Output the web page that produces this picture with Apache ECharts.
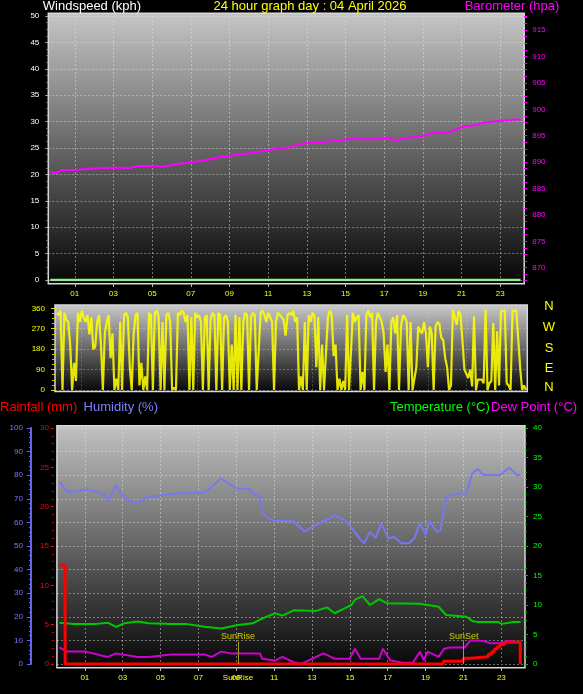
<!DOCTYPE html>
<html><head><meta charset="utf-8">
<script src="https://cdn.jsdelivr.net/npm/echarts@6.0.0/dist/echarts.min.js"></script>
<style>html,body{margin:0;padding:0;background:#000;}#c{width:583px;height:694px;}</style>
</head><body><div id="c"></div>
<script>
// ---------- data ----------
const titleText = '24 hour graph day : 04 April 2026';
const hourTicks = [1,3,5,7,9,11,13,15,17,19,21,23];
const sunriseHour = 9.09;
const sunsetHour = 21.01;

const windSpeedHours = [-0.27, 24.05];
const windSpeedValues = [0, 0];

const baroHours = [-0.27,0.02,0.31,0.98,1.94,3.09,3.8,4.25,5.1,5.59,6.2,7.13,7.9,8.67,9.6,10.59,11.2,12.13,12.51,13.28,14.44,15.4,16.2,17.32,17.51,18.28,19.05,19.43,20.2,20.58,21.07,21.74,22.12,22.89,24.05];
const baroValues = [888.2,887.9,888.5,888.5,888.8,889.0,888.9,889.2,889.3,889.1,889.6,890.0,890.5,891.0,891.5,892.0,892.4,892.8,893.4,893.7,894.0,894.4,894.3,894.6,894.1,894.6,895.0,895.5,895.6,895.9,896.7,897.0,897.5,897.8,898.1];

const windDirStartHour = -0.3;
const windDirStepHours = 0.1;
const windDirValues = [
 340,330,350,0,340,310,300,200,0,120,
 40,340,300,350,320,300,330,245,320,180,
 190,300,330,200,0,250,300,330,140,250,
 0,50,0,300,0,330,340,320,100,0,
 250,330,340,20,120,0,60,0,340,330,
 0,340,350,320,0,300,0,330,340,300,
 0,10,0,340,330,350,340,300,330,0,
 320,0,340,320,330,300,0,320,330,0,
 310,340,330,0,340,330,0,320,330,300,
 0,200,0,330,0,320,0,300,340,330,
 0,320,340,330,0,0,340,350,330,300,
 340,320,300,0,300,340,330,320,310,240,
 330,340,330,350,300,320,0,60,0,300,
 0,330,300,340,330,100,320,0,200,0,
 0,320,350,330,150,200,0,50,0,40,
 0,330,0,0,340,300,320,330,0,80,
 0,330,350,320,340,0,300,340,320,300,
 250,80,200,0,300,320,250,330,0,280,
 330,320,300,0,300,0,0,100,280,260,
 250,300,250,100,280,250,0,280,300,290,
 229,220,141,100,0,20,354,360,288,350,
 330,215,90,90,53,90,16,325,0,46,
 40,46,30,354,0,30,40,295,0,259,
 20,347,355,350,30,20,0,350,355,350,
 355,97,0,20,0
];

const humHours = [-0.34,0.05,0.45,1.04,1.63,2.02,2.21,2.65,3.10,3.78,4.37,5.55,6.34,7.32,7.71,8.20,8.70,9.09,9.68,9.87,10.26,10.36,10.66,11.05,12.03,12.23,12.62,13.02,13.21,13.60,13.80,14.19,14.78,15.18,15.57,15.76,16.06,16.36,16.65,17.04,17.34,17.73,18.12,18.41,18.71,19.00,19.20,19.59,19.79,20.08,20.67,21.16,21.46,21.75,22.05,22.93,23.42,23.81,24.02];
const humValues = [77.3,73,73,74,73,72,69,75.8,70.2,68.1,70.9,71.9,72.5,72.5,75.2,78.7,75.8,74.2,74.2,72.2,71,64.6,61.8,60.6,60.6,58.9,56.1,58.2,58.9,60.6,61,63.1,60.6,56.8,52.6,51.2,56.1,53.3,59.7,53.3,53.8,51.2,51.2,53.3,59.7,54.7,60.6,56.1,56.8,70.9,72.2,72.2,80.8,82.6,80.1,80.1,83.2,80.1,80.1];

const tempHours = [-0.34,0.45,1.63,2.21,2.65,3.10,3.78,4.37,5.55,6.34,7.32,7.71,8.20,9.09,9.87,10.36,11.05,11.44,12.03,13.21,13.80,14.19,14.78,15.08,15.27,15.67,16.06,16.55,16.94,18.71,19.69,20.08,20.86,21.16,21.46,21.75,22.83,23.03,23.62,24.02];
const tempValues = [7.0,6.8,6.8,7.0,6.3,6.9,7.2,6.9,6.8,6.8,6.3,6.2,6.0,6.6,6.9,7.7,8.6,8.2,9.1,9.0,9.6,8.6,9.5,10.0,10.9,11.5,10.0,11.0,10.3,10.2,9.7,8.3,8.1,8.0,7.3,7.1,7.1,6.8,7.1,7.1];

const dewHours = [-0.34,0.05,1.04,2.21,2.65,3.78,4.37,5.55,7.32,7.71,8.20,8.70,10.26,10.36,11.05,11.44,12.03,12.43,12.82,13.60,14.19,14.98,15.27,15.57,16.55,16.75,17.14,17.63,17.75,18.32,18.41,18.71,18.90,19.10,19.69,19.98,20.28,21.07,21.36,21.65,22.05,22.44,22.83,23.42,24.02];
const dewValues = [2.8,2.1,2.1,1.2,1.8,1.2,1.2,1.6,1.6,1.2,2.1,1.8,1.8,0.9,0.6,1.2,0.3,0.0,0.6,1.8,0.9,0.9,2.6,0.9,0.9,2.6,0.6,0.3,0.2,0.2,0.3,2.1,0.6,2.1,1.2,2.6,2.8,2.8,4.0,4.0,3.9,3.5,3.5,3.95,3.6];

const rainHours = [-0.34,-0.04,19.94,20.99,21.38,22.31,22.49,22.63,22.79,22.93,23.2,24.0];
const rainValues = [12.6,0,0.35,0.72,0.93,1.23,1.56,1.9,2.2,2.5,2.76,0];

// ---------- helpers ----------
const FONT = "'Liberation Sans', Arial, sans-serif";
const zip = (xs, ys) => xs.map((x, i) => [x, ys[i]]);
const pad2 = v => { const r = Math.round(v); return (r < 10 ? '0' : '') + r; };
const gridLine = {show: true, lineStyle: {color: 'rgba(230,230,230,0.45)', type: [2, 2], width: 1}};
const bgFill = (c0) => new echarts.graphic.LinearGradient(0, 0, 0, 1, [{offset: 0, color: c0}, {offset: 1, color: '#050505'}]);
const small = (color) => ({color: color, fontSize: 8, fontFamily: FONT});
const noLine = {show: false, onZero: false};

const chart = echarts.init(document.getElementById('c'), null, {renderer: 'canvas'});

const option = {
  backgroundColor: '#000',
  animation: false,
  grid: [
    {left: 48.3, right: 58.8, top: 16, height: 264},
    {left: 55, right: 55.7, top: 308.3, height: 81.7},
    {left: 56.9, right: 58, top: 428, height: 236}
  ],
  xAxis: [
    {type: 'value', gridIndex: 0, min: -0.37, max: 24.24, offset: 4,
     axisLine: noLine,
     axisTick: {show: true, customValues: hourTicks, length: 3, lineStyle: {color: '#bbb'}},
     axisLabel: Object.assign(small('#ffff00'), {customValues: hourTicks, formatter: pad2, margin: 6}),
     splitLine: gridLine},
    {type: 'value', gridIndex: 1, min: -0.39, max: 24.17,
     axisLine: noLine,
     axisTick: {show: false, customValues: hourTicks},
     axisLabel: {show: false},
     splitLine: {show: true, lineStyle: {color: 'rgba(230,230,230,0.25)', type: [2, 2]}}},
    {type: 'value', gridIndex: 2, min: -0.475, max: 24.25, offset: 4,
     axisLine: noLine,
     axisTick: {show: true, customValues: hourTicks, length: 3, lineStyle: {color: '#bbb'}},
     axisLabel: Object.assign(small('#ffff00'), {customValues: hourTicks.concat([sunriseHour]), margin: 6,
       formatter: v => Math.abs(v - sunriseHour) < 1e-6 ? 'SunRise' : pad2(v)}),
     splitLine: gridLine}
  ],
  yAxis: [
    {type: 'value', gridIndex: 0, position: 'left', min: 0, max: 50, interval: 5,
     axisLine: noLine,
     axisTick: {show: true, length: 3, lineStyle: {color: '#aaa'}},
     minorTick: {show: true, splitNumber: 4, length: 2, lineStyle: {color: '#888'}},
     axisLabel: Object.assign(small('#ffffff'), {margin: 9}),
     splitLine: gridLine},
    {type: 'value', gridIndex: 0, position: 'right', min: 867.67, max: 917.67, splitNumber: 10,
     axisLine: noLine,
     axisTick: {show: true, length: 3, lineStyle: {color: '#ff00ff'}},
     minorTick: {show: true, splitNumber: 4, length: 3, lineStyle: {color: '#ff00ff'}},
     axisLabel: Object.assign(small('#ff00ff'), {margin: 8,
       formatter: v => Math.abs(v / 5 - Math.round(v / 5)) < 1e-6 ? String(Math.round(v)) : ''}),
     splitLine: {show: false}},
    {type: 'value', gridIndex: 1, position: 'left', min: 0, max: 360, interval: 90,
     axisLine: noLine,
     axisTick: {show: true, length: 4, lineStyle: {color: '#e0e000'}},
     minorTick: {show: true, splitNumber: 4, length: 3, lineStyle: {color: '#c8c800'}},
     axisLabel: Object.assign(small('#ffff00'), {margin: 10}),
     splitLine: {show: true, lineStyle: {color: 'rgba(230,230,230,0.35)', type: [2, 2]}}},
    {type: 'value', gridIndex: 2, position: 'left', offset: 26, min: 0, max: 100, interval: 10,
     axisLine: {show: true, onZero: false, lineStyle: {color: '#6464f0', width: 2}},
     axisTick: {show: true, length: 4, lineStyle: {color: '#6464f0'}},
     minorTick: {show: true, splitNumber: 5, length: 2, lineStyle: {color: '#6464f0'}},
     axisLabel: Object.assign(small('#7b7bff'), {margin: 8}),
     splitLine: gridLine},
    {type: 'value', gridIndex: 2, position: 'left', offset: 3, min: 0, max: 30, interval: 5,
     axisLine: noLine,
     axisTick: {show: true, length: 3, lineStyle: {color: '#ff0000'}},
     minorTick: {show: true, splitNumber: 5, length: 2, lineStyle: {color: '#e00000'}},
     axisLabel: Object.assign(small('#ff0000'), {margin: 5}),
     splitLine: {show: false}},
    {type: 'value', gridIndex: 2, position: 'right', min: 0, max: 40, interval: 5,
     axisLine: noLine,
     axisTick: {show: true, length: 3, lineStyle: {color: '#00c000'}},
     minorTick: {show: true, splitNumber: 4, length: 2, lineStyle: {color: '#00b000'}},
     axisLabel: Object.assign(small('#00ff00'), {margin: 8}),
     splitLine: {show: false}}
  ],
  series: [
    {name: 'Windspeed', type: 'line', xAxisIndex: 0, yAxisIndex: 0, symbol: 'none',
     lineStyle: {color: '#90ee90', width: 2.5}, data: zip(windSpeedHours, windSpeedValues)},
    {name: 'Barometer', type: 'line', xAxisIndex: 0, yAxisIndex: 1, symbol: 'none',
     lineStyle: {color: '#ff00ff', width: 2}, data: zip(baroHours, baroValues)},
    {name: 'Wind direction', type: 'line', xAxisIndex: 1, yAxisIndex: 2, symbol: 'none',
     lineStyle: {color: '#ffff00', width: 2.2, opacity: 0.88},
     data: windDirValues.map((v, i) => [windDirStartHour + i * windDirStepHours, v])},
    {name: 'Humidity', type: 'line', xAxisIndex: 2, yAxisIndex: 3, symbol: 'none',
     lineStyle: {color: '#7878f0', width: 2}, data: zip(humHours, humValues)},
    {name: 'Temperature', type: 'line', xAxisIndex: 2, yAxisIndex: 5, symbol: 'none',
     lineStyle: {color: '#00c800', width: 2}, data: zip(tempHours, tempValues),
     markLine: {symbol: 'none', silent: true,
       lineStyle: {color: '#a0a020', width: 1, type: 'solid'},
       label: {show: true, position: 'end', formatter: '{b}', color: '#d0d000', fontSize: 9, fontFamily: FONT, distance: 1},
       data: [
         [{name: 'SunRise', coord: [sunriseHour, 0]}, {coord: [sunriseHour, 3.8]}],
         [{name: 'SunSet', coord: [sunsetHour, 0]}, {coord: [sunsetHour, 3.8]}]
       ]}},
    {name: 'Dew Point', type: 'line', xAxisIndex: 2, yAxisIndex: 5, symbol: 'none',
     lineStyle: {color: '#d000d0', width: 2}, data: zip(dewHours, dewValues)},
    {name: 'Rainfall', type: 'line', xAxisIndex: 2, yAxisIndex: 4, symbol: 'none', step: 'end',
     lineStyle: {color: '#ff0000', width: 3}, data: zip(rainHours, rainValues)}
  ],
  graphic: [
    {type: 'rect', z: -10, shape: {x: 48.3, y: 13.3, width: 475.9, height: 270.5},
     style: {fill: bgFill('#c6c6c6'), stroke: '#d8d8d8', lineWidth: 1.5}},
    {type: 'rect', z: -10, shape: {x: 55, y: 305, width: 472.3, height: 86.5},
     style: {fill: bgFill('#cacaca'), stroke: '#d8d8d8', lineWidth: 1.5}},
    {type: 'rect', z: -10, shape: {x: 56.9, y: 425.7, width: 468.1, height: 242},
     style: {fill: bgFill('#c2c2c2'), stroke: '#d8d8d8', lineWidth: 1.5}},
    {type: 'text', z: 10, x: 42.8, y: 0, style: {text: 'Windspeed (kph)', fill: '#ffffff', font: '13px ' + FONT, textVerticalAlign: 'top'}},
    {type: 'text', z: 10, x: 310, y: 0, style: {text: titleText, fill: '#ffff00', font: '13px ' + FONT, textAlign: 'center', textVerticalAlign: 'top'}},
    {type: 'text', z: 10, x: 464.7, y: 0, style: {text: 'Barometer (hpa)', fill: '#ff00ff', font: '13px ' + FONT, textVerticalAlign: 'top'}},
    {type: 'text', z: 10, x: 0, y: 401, style: {text: 'Rainfall (mm)', fill: '#ff0000', font: '13px ' + FONT, textVerticalAlign: 'top'}},
    {type: 'text', z: 10, x: 83.6, y: 401, style: {text: 'Humidity (%)', fill: '#8080ff', font: '13px ' + FONT, textVerticalAlign: 'top'}},
    {type: 'text', z: 10, x: 390, y: 401, style: {text: 'Temperature (°C)', fill: '#00ff00', font: '13px ' + FONT, textVerticalAlign: 'top'}},
    {type: 'text', z: 10, x: 491, y: 401, style: {text: 'Dew Point (°C)', fill: '#ff00ff', font: '13px ' + FONT, textVerticalAlign: 'top'}},
    {type: 'text', z: 10, x: 549, y: 306, style: {text: 'N', fill: '#ffff00', font: '13px ' + FONT, textAlign: 'center', textVerticalAlign: 'middle'}},
    {type: 'text', z: 10, x: 549, y: 327.7, style: {text: 'W', fill: '#ffff00', font: '13px ' + FONT, textAlign: 'center', textVerticalAlign: 'middle'}},
    {type: 'text', z: 10, x: 549, y: 348.3, style: {text: 'S', fill: '#ffff00', font: '13px ' + FONT, textAlign: 'center', textVerticalAlign: 'middle'}},
    {type: 'text', z: 10, x: 549, y: 368.7, style: {text: 'E', fill: '#ffff00', font: '13px ' + FONT, textAlign: 'center', textVerticalAlign: 'middle'}},
    {type: 'text', z: 10, x: 549, y: 387.7, style: {text: 'N', fill: '#ffff00', font: '13px ' + FONT, textAlign: 'center', textVerticalAlign: 'middle'}}
  ]
};
chart.setOption(option);
</script>
</body></html>
